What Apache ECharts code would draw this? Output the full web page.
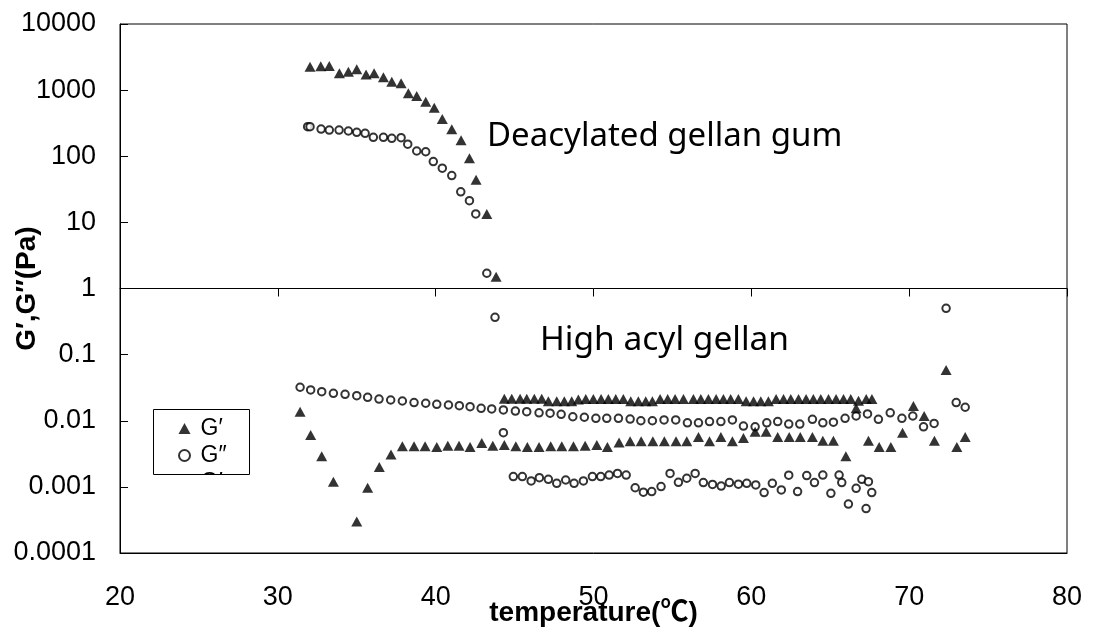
<!DOCTYPE html>
<html>
<head>
<meta charset="utf-8">
<title>G', G'' vs temperature</title>
<script src="https://cdn.jsdelivr.net/npm/echarts@6/dist/echarts.min.js"></script>
<style>
  html, body { margin: 0; padding: 0; background: #fff; }
  #chart { width: 1093px; height: 632px; }
</style>
</head>
<body>
<div id="chart"></div>
<script>
// ---- axis ticks ----
const xTicks = [20, 30, 40, 50, 60, 70, 80];
const yTickLabels = ['0.0001', '0.001', '0.01', '0.1', '1', '10', '100', '1000', '10000'];

// ---- Deacylated gellan gum ----
const daTempG1 = [32.04, 32.72, 33.26, 33.90, 34.47, 35.00, 35.59, 36.10, 36.69, 37.22, 37.81,
                  38.27, 38.80, 39.37, 39.91, 40.42, 41.02, 41.61, 42.14, 42.56, 43.24, 43.83];
const daG1 = [2250, 2300, 2320, 1800, 1900, 2070, 1730, 1800, 1560, 1340, 1270,
              900, 815, 670, 540, 365, 255, 175, 93, 44, 13.4, 1.5];

const daTempG2 = [31.89, 32.04, 32.74, 33.26, 33.88, 34.47, 35.00, 35.53, 36.05, 36.69, 37.22, 37.81,
                  38.23, 38.80, 39.37, 39.85, 40.42, 41.02, 41.59, 42.14, 42.54, 43.24, 43.76];
const daG2 = [280, 280, 258, 249, 249, 241, 230, 222, 193, 193, 187, 191,
              152, 120, 117, 83, 66, 51, 29, 21.3, 13.4, 1.70, 0.366];

// ---- High acyl gellan, run 1 ----
const haTempG2a = [31.41, 32.08, 32.78, 33.52, 34.26, 35.00, 35.69, 36.41, 37.15, 37.89, 38.63, 39.37,
                   40.07, 40.81, 41.50, 42.18, 42.88, 43.55, 44.29, 45.05, 45.77, 46.55, 47.25, 47.95,
                   48.69, 49.42, 50.15, 50.84, 51.58, 52.32, 53.00, 53.73, 54.47, 55.21, 55.95, 56.65,
                   57.35, 58.07, 58.80, 59.50, 60.24, 60.98, 61.67, 62.37, 63.07, 63.87, 64.53, 65.20,
                   65.94, 66.64, 67.36, 68.05, 68.80, 69.54, 70.23, 70.91, 71.58, 72.34, 72.98, 73.55];
const haG2a = [0.0321, 0.0292, 0.0275, 0.0260, 0.0251, 0.0239, 0.0226, 0.0213, 0.0206, 0.0199, 0.0188, 0.0184,
               0.0177, 0.0173, 0.0169, 0.0163, 0.0154, 0.0151, 0.0146, 0.0140, 0.0137, 0.0132, 0.0130, 0.0125,
               0.0115, 0.0113, 0.0109, 0.0109, 0.0109, 0.0106, 0.0100, 0.0100, 0.0103, 0.0103, 0.0093, 0.0093,
               0.0097, 0.0097, 0.0103, 0.0083, 0.0081, 0.0093, 0.0097, 0.0089, 0.0089, 0.0105, 0.0093, 0.0095,
               0.0109, 0.0118, 0.0127, 0.0105, 0.0132, 0.0109, 0.0118, 0.0081, 0.0091, 0.502, 0.0188, 0.0160];

const haTempG1a = [31.41, 32.08, 32.78, 33.52, 35.00, 35.69, 36.43, 37.17, 37.89, 38.63, 39.33, 40.07,
                   40.77, 41.48, 42.18, 42.92, 43.62, 44.35, 45.08, 45.81, 46.55, 47.29, 47.99, 48.73,
                   49.47, 50.21, 50.88, 51.62, 52.32, 53.02, 53.76, 54.49, 55.23, 55.91, 56.65, 57.35,
                   58.07, 58.80, 59.50, 60.24, 60.94, 61.67, 62.40, 63.10, 63.87, 64.53, 65.20, 65.99,
                   66.64, 67.42, 68.10, 68.84, 69.58, 70.27, 70.95, 71.60, 72.34, 73.02, 73.55];
const haG1a = [0.0137, 0.0061, 0.0029, 0.0012, 0.0003, 0.00097, 0.0020, 0.0031, 0.0041, 0.0041, 0.0041, 0.0040,
               0.0042, 0.0042, 0.0040, 0.0046, 0.0042, 0.0043, 0.0041, 0.0040, 0.0040, 0.0041, 0.0041, 0.0041,
               0.0042, 0.0043, 0.0040, 0.0047, 0.0049, 0.0049, 0.0049, 0.0049, 0.0049, 0.0049, 0.0057, 0.0049,
               0.0057, 0.0049, 0.0055, 0.0068, 0.0068, 0.0057, 0.0057, 0.0057, 0.0057, 0.0050, 0.0050, 0.0029,
               0.0154, 0.0050, 0.0040, 0.0040, 0.0066, 0.0167, 0.0118, 0.0050, 0.0585, 0.0040, 0.0057];

// ---- High acyl gellan, run 2 ----
const haTempG1b = [44.35, 44.82, 45.35, 45.77, 46.25, 46.72, 47.14, 47.67, 48.15, 48.62, 49.04, 49.51,
                   49.99, 50.48, 50.94, 51.41, 51.89, 52.36, 52.84, 53.31, 53.73, 54.22, 54.70, 55.17,
                   55.70, 56.33, 56.80, 57.28, 57.77, 58.23, 58.69, 59.18, 59.67, 60.14, 60.60, 61.08,
                   61.57, 62.04, 62.50, 62.99, 63.47, 63.93, 64.40, 64.89, 65.37, 65.84, 66.30, 66.79,
                   67.28, 67.64];
const haG1b = [0.0215, 0.0215, 0.0215, 0.0215, 0.0215, 0.0215, 0.0198, 0.0198, 0.0198, 0.0198, 0.0210, 0.0213,
               0.0213, 0.0213, 0.0213, 0.0213, 0.0213, 0.0198, 0.0198, 0.0198, 0.0198, 0.0213, 0.0213, 0.0213,
               0.0213, 0.0213, 0.0213, 0.0213, 0.0213, 0.0213, 0.0213, 0.0213, 0.0198, 0.0198, 0.0198, 0.0198,
               0.0213, 0.0213, 0.0213, 0.0213, 0.0213, 0.0213, 0.0213, 0.0213, 0.0213, 0.0213, 0.0213, 0.0200,
               0.0213, 0.0213];

const haTempG2b = [44.29, 44.92, 45.49, 46.05, 46.57, 47.14, 47.67, 48.24, 48.77, 49.36, 49.93, 50.46,
                   50.99, 51.52, 52.07, 52.64, 53.16, 53.69, 54.28, 54.85, 55.38, 55.91, 56.44, 56.96,
                   57.54, 58.09, 58.61, 59.18, 59.71, 60.28, 60.81, 61.33, 61.90, 62.37, 62.93, 63.51,
                   64.00, 64.53, 65.04, 65.56, 65.73, 66.15, 66.64, 67.00, 67.27, 67.42, 67.63];
const haG2b = [0.0066, 0.00143, 0.00143, 0.00123, 0.00138, 0.00130, 0.00113, 0.00127, 0.00113, 0.00123, 0.00143, 0.00143,
               0.00151, 0.00160, 0.00151, 0.00097, 0.00083, 0.00085, 0.00101, 0.00160, 0.00117, 0.00135, 0.00160, 0.00116,
               0.00109, 0.00103, 0.00116, 0.00110, 0.00113, 0.00107, 0.00082, 0.00113, 0.00090, 0.00150, 0.00085, 0.00148,
               0.00116, 0.00151, 0.00080, 0.00151, 0.00116, 0.00055, 0.00095, 0.00130, 0.00047, 0.00120, 0.00082];

// ---- layout ----
const GRID = { left: 120, top: 24, width: 947, height: 529 };
const TICK_FONT = "'Liberation Sans', Arial, sans-serif";
const TITLE_FONT = "'Liberation Sans', 'Noto Sans CJK JP', Arial, sans-serif";
const NOTE_FONT = "'Noto Sans', 'Liberation Sans', sans-serif";

const pairs = (xs, ys) => xs.map((x, i) => [x, ys[i]]);

const triStyle = {
  type: 'scatter', symbol: 'triangle', symbolSize: [11, 10],
  itemStyle: { color: '#000' }, silent: true
};
const circStyle = {
  type: 'scatter', symbol: 'emptyCircle', symbolSize: 7.5,
  itemStyle: { color: '#000', borderColor: '#000', borderWidth: 2 }, silent: true
};

const chart = echarts.init(document.getElementById('chart'), null, { renderer: 'canvas' });

chart.setOption({
  animation: false,
  backgroundColor: '#fff',
  grid: Object.assign({
    show: true, borderColor: '#000', borderWidth: 1, backgroundColor: 'transparent',
    containLabel: false, outerBoundsMode: 'none'
  }, GRID),
  xAxis: [
    {
      type: 'value', min: xTicks[0], max: xTicks[xTicks.length - 1], interval: 10,
      position: 'bottom',
      name: 'temperature(℃)', nameLocation: 'middle', nameGap: 46, nameMoveOverlap: false,
      nameTextStyle: { fontFamily: TITLE_FONT, fontSize: 28, fontWeight: 'bold', color: '#000' },
      axisLine: { show: true, lineStyle: { color: '#000', width: 1 } },
      axisTick: { show: false },
      axisLabel: { fontFamily: TICK_FONT, fontSize: 27, color: '#000', margin: 31 },
      splitLine: { show: false }
    },
    {
      // crossing axis drawn along G = 1 Pa, halfway up the log range
      type: 'value', min: xTicks[0], max: xTicks[xTicks.length - 1], interval: 10,
      position: 'bottom', offset: -GRID.height / 2,
      axisLine: { show: true, lineStyle: { color: '#000', width: 1 } },
      axisTick: { show: true, inside: false, length: 8, lineStyle: { color: '#000' } },
      axisLabel: { show: false },
      splitLine: { show: false }
    }
  ],
  yAxis: {
    type: 'log', logBase: 10, min: 0.0001, max: 10000, splitNumber: 8,
    name: 'G′,G″(Pa)', nameLocation: 'middle', nameGap: 79, nameRotate: 90, nameMoveOverlap: false,
    nameTextStyle: { fontFamily: TITLE_FONT, fontSize: 28, fontWeight: 'bold', color: '#000' },
    axisLine: { show: true, lineStyle: { color: '#000', width: 1 } },
    axisTick: { show: true, inside: true, length: 8, lineStyle: { color: '#000' } },
    axisLabel: {
      fontFamily: TICK_FONT, fontSize: 27, color: '#000', margin: 24,
      formatter: v => yTickLabels[Math.round(Math.log10(v)) + 4]
    },
    splitLine: { show: false }
  },
  legend: {
    orient: 'vertical', left: 178, top: 415, padding: 0,
    itemWidth: 12, itemHeight: 11, itemGap: 0,
    selectedMode: false,
    textStyle: { fontFamily: TICK_FONT, fontSize: 23, color: '#000', lineHeight: 27, padding: [0, 0, 0, 5] },
    data: [
      { name: 'G′', icon: 'triangle', itemStyle: { color: '#000' } },
      { name: 'G″', icon: 'circle', itemStyle: { color: '#fff', borderColor: '#000', borderWidth: 2 } },
      { name: 'G′\u200A', icon: 'triangle', itemStyle: { color: '#000' } }
    ]
  },
  graphic: [
    {
      type: 'rect', z: 100, silent: true,
      shape: { x: 152, y: 474.5, width: 101, height: 24 },
      style: { fill: '#fff' }
    },
    {
      type: 'rect', z: 101, silent: true,
      shape: { x: 153.5, y: 409.5, width: 96, height: 65 },
      style: { fill: 'none', stroke: '#000', lineWidth: 1 }
    },
    {
      type: 'text', left: 487, top: 120, silent: true,
      style: { text: 'Deacylated gellan gum', font: '33px ' + NOTE_FONT, fill: '#000' }
    },
    {
      type: 'text', left: 540, top: 323, silent: true,
      style: { text: 'High acyl gellan', font: '33.5px ' + NOTE_FONT, fill: '#000' }
    }
  ],
  series: [
    Object.assign({ name: 'G′', data: pairs(daTempG1, daG1) }, triStyle),
    Object.assign({ name: 'G″', data: pairs(daTempG2, daG2) }, circStyle),
    Object.assign({ name: 'G″', data: pairs(haTempG2a, haG2a) }, circStyle),
    Object.assign({ name: 'G′', data: pairs(haTempG1a, haG1a) }, triStyle),
    Object.assign({ name: 'G″', data: pairs(haTempG2b, haG2b) }, circStyle),
    Object.assign({ name: 'G′\u200A', data: pairs(haTempG1b, haG1b) }, triStyle)
  ]
});
</script>
</body>
</html>
